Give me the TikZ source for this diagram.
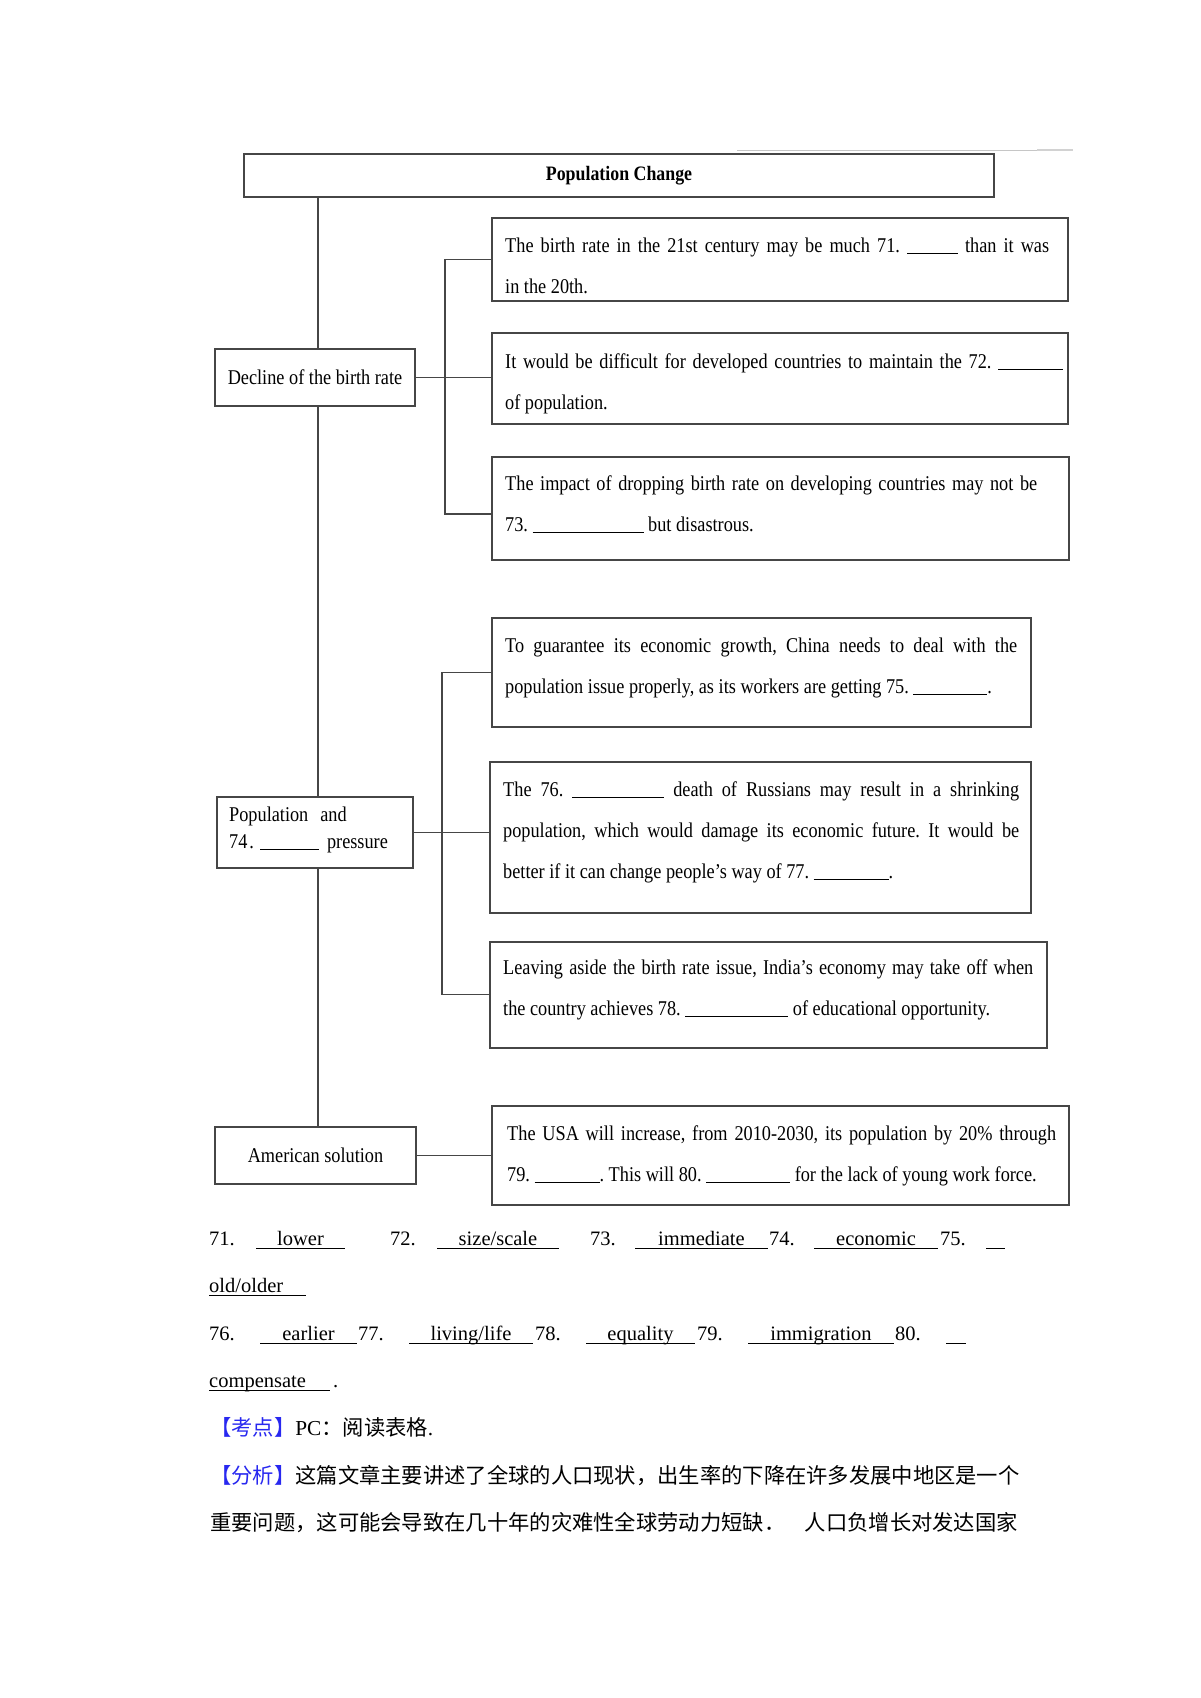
\documentclass[tikz,border=0pt]{standalone}
\usepackage{fontspec}
\setmainfont{Liberation Serif}[FakeStretch=0.87]
\newfontfamily\ansfont{Liberation Serif}
\newfontfamily\cjk{Noto Sans CJK SC}
\definecolor{kblue}{RGB}{40,40,240}
\definecolor{bline}{RGB}{70,70,70}
\newcommand{\myblank}[1]{\rule[-2pt]{#1pt}{0.9pt}}
\hyphenpenalty=10000
\tolerance=10000
\frenchspacing
\tikzset{
  box/.style={draw=bline, line width=1.5pt, inner sep=0pt, anchor=north west},
  lbox/.style={draw=bline, line width=1.5pt, inner sep=0pt, font=\fontsize{21}{25}\selectfont},
  conn/.style={draw=bline, line width=1.4pt},
  btext/.style={anchor=north west, inner sep=0pt, align=justify, font=\fontsize{21}{41}\selectfont\frenchspacing},
  ansnode/.style={inner sep=0pt, font=\ansfont\fontsize{20.5}{24}\selectfont},
  cjknode/.style={inner sep=0pt, anchor=base west, font=\fontsize{21.3}{26}\selectfont},
  uline/.style={draw=black, line width=0.9pt}
}
\newcommand{\ans}[5]{%
  \node[ansnode, anchor=base] (#1) at ({(#2+#3)/2}, #4) {#5};
  \draw[uline] (#2, #4+3) -- (#3, #4+3);}
\begin{document}
\begin{tikzpicture}[x=1pt, y=-1pt]
\fill[white] (0,0) rectangle (1200,1698);
\useasboundingbox (0,0) rectangle (1200,1698);

% faint top line
\draw[gray!45, line width=1pt] (737,150) -- (1073,150);
\draw[gray!35, line width=2.5pt] (1037,150) -- (1073,150);

% title
\node[lbox, minimum width=750pt, minimum height=43pt, font=\bfseries\fontsize{20.5}{24}\selectfont] (title) at (619,175.5) {Population Change};

% left boxes
\node[lbox, minimum width=200pt, minimum height=57pt] (dec) at (315,377.5) {Decline of the birth rate};
\node[lbox, minimum width=196pt, minimum height=71pt] (pop) at (315,832.5) {};
\node[anchor=north west, inner sep=0pt, align=left, font=\fontsize{21}{27}\selectfont] (poptext) at (229,802.1)
  {\strut Population\hspace{12pt}and\\74\hspace{2pt}.\hspace{6pt}\myblank{59}\hspace{8pt}pressure};
\node[lbox, minimum width=201pt, minimum height=57pt] (amer) at (315.5,1155.5) {American solution};

% right boxes
\node[box, minimum width=576pt, minimum height=83pt] (b1) at (491,217) {};
\node[box, minimum width=576pt, minimum height=91pt] (b2) at (491,332) {};
\node[box, minimum width=577pt, minimum height=103pt] (b3) at (491,456) {};
\node[box, minimum width=539pt, minimum height=109pt] (b4) at (491,617) {};
\node[box, minimum width=541pt, minimum height=151pt] (b5) at (489,761) {};
\node[box, minimum width=557pt, minimum height=106pt] (b6) at (489,941) {};
\node[box, minimum width=577pt, minimum height=99pt] (b7) at (491,1105) {};

\node[btext, text width=544pt] (t1) at (505,223.3) {\strut The birth rate in the 21st century may be much 71. \myblank{51} than it was\linebreak in the 20th.};
\node[btext, text width=558pt] (t2) at (505,339.3) {\strut It would be difficult for developed countries to maintain the 72. \myblank{65}\linebreak of population.};
\node[btext, text width=532pt] (t3) at (505,461.3) {\strut The impact of dropping birth rate on developing countries may not be\linebreak 73. \myblank{111} but disastrous.};
\node[btext, text width=512pt] (t4) at (505,623.3) {\strut To guarantee its economic growth, China needs to deal with the\linebreak population issue properly, as its workers are getting 75. \myblank{74}.};
\node[btext, text width=516pt] (t5) at (503,767.3) {\strut The 76. \myblank{92} death of Russians may result in a shrinking\linebreak population, which would damage its economic future. It would be\linebreak better if it can change people’s way of 77. \myblank{75}.};
\node[btext, text width=530pt] (t6) at (503,945.3) {\strut Leaving aside the birth rate issue, India’s economy may take off when\linebreak the country achieves 78. \myblank{103} of educational opportunity.};
\node[btext, text width=549pt] (t7) at (507,1111.3) {\strut The USA will increase, from 2010-2030, its population by 20\% through\linebreak 79. \myblank{65}. This will 80. \myblank{84} for the lack of young work force.};

% trunk
\coordinate (tx) at (318,0);
\draw[conn] (title.south -| tx) -- (dec.north -| tx);
\draw[conn] (dec.south -| tx) -- (pop.north -| tx);
\draw[conn] (pop.south -| tx) -- (amer.north -| tx);

% bracket 1
\coordinate (k1) at (445,0);
\coordinate (j3) at (491,514);
\draw[conn] (dec.east) -- (dec.east -| b2.west);
\draw[conn] (b1.west) -- (b1.west -| k1) -- (k1 |- j3) -- (j3);

% bracket 2
\coordinate (k2) at (442,0);
\draw[conn] (pop.east) -- (pop.east -| b5.west);
\draw[conn] (b4.west) -- (b4.west -| k2) -- (k2 |- b6.west) -- (b6.west);

% american
\draw[conn] (amer.east) -- (amer.east -| b7.west);

% answers
\node[ansnode, anchor=base west] (n71) at (209,1245) {71.};
\ans{a71}{256}{345}{1245}{lower}
\node[ansnode, anchor=base west] (n72) at (390,1245) {72.};
\ans{a72}{437}{559}{1245}{size/scale}
\node[ansnode, anchor=base west] (n73) at (590,1245) {73.};
\ans{a73}{635}{768}{1245}{immediate}
\node[ansnode, anchor=base west] (n74) at (769,1245) {74.};
\ans{a74}{814}{938}{1245}{economic}
\node[ansnode, anchor=base west] (n75) at (940,1245) {75.};
\draw[uline] (986,1248) -- (1005,1248);
\node[ansnode, anchor=base west] (a75) at (209,1292) {old/older};
\draw[uline] (209,1295) -- (306,1295);

\node[ansnode, anchor=base west] (n76) at (209,1340) {76.};
\ans{a76}{260}{357}{1340}{earlier}
\node[ansnode, anchor=base west] (n77) at (358,1340) {77.};
\ans{a77}{409}{533}{1340}{living/life}
\node[ansnode, anchor=base west] (n78) at (535,1340) {78.};
\ans{a78}{586}{695}{1340}{equality}
\node[ansnode, anchor=base west] (n79) at (697,1340) {79.};
\ans{a79}{748}{894}{1340}{immigration}
\node[ansnode, anchor=base west] (n80) at (895,1340) {80.};
\draw[uline] (946,1343) -- (966,1343);
\node[ansnode, anchor=base west] (a80) at (209,1387) {compensate};
\draw[uline] (209,1390) -- (330,1390);
\node[ansnode, anchor=base west] (p80) at (333,1387) {.};

% Chinese analysis
\node[cjknode] (kd) at (210,1435) {{\cjk\color{kblue}【考点】}{\ansfont PC}{\cjk ：阅读表格}{\ansfont .}};
\node[cjknode] (fx) at (210,1483) {{\cjk\color{kblue}【分析】}{\cjk 这篇文章主要讲述了全球的人口现状，出生率的下降在许多发展中地区是一个}};
\node[cjknode] (l3a) at (210,1530) {\cjk 重要问题，这可能会导致在几十年的灾难性全球劳动力短缺．};
\node[cjknode, anchor=base east] (l3b) at (1018,1530) {\cjk 人口负增长对发达国家};
\end{tikzpicture}
\end{document}
